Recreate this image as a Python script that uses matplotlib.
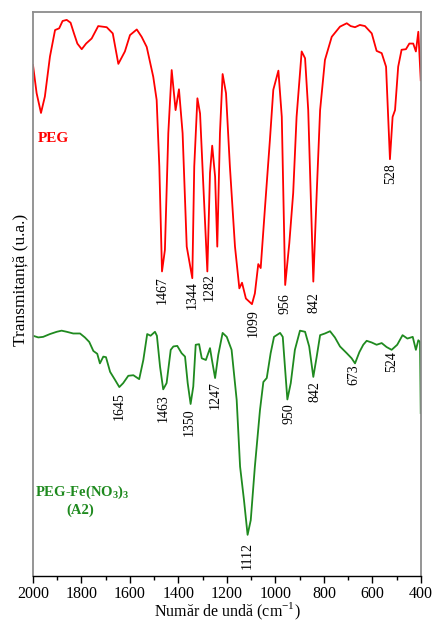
import matplotlib
matplotlib.use("Agg")
import matplotlib.pyplot as plt
from matplotlib.ticker import MultipleLocator

plt.rcParams['font.family'] = ['Liberation Serif', 'DejaVu Serif']
plt.rcParams['mathtext.fontset'] = 'custom'
plt.rcParams['mathtext.rm'] = 'Liberation Serif'
plt.rcParams['mathtext.bf'] = 'Liberation Serif:bold'

# PEG spectrum (wavenumber cm-1, transmittance a.u.)
peg_wn = [2000, 1985, 1967, 1951, 1930, 1909, 1892, 1878, 1861, 1845, 1831, 1817,
          1799, 1781, 1758, 1731, 1696, 1671, 1648, 1621, 1600, 1572, 1552, 1531,
          1504, 1490, 1479, 1468, 1456, 1442, 1428, 1412, 1398, 1383, 1366, 1343,
          1335, 1322, 1311, 1298, 1281, 1270, 1261, 1249, 1240, 1229, 1218, 1204,
          1188, 1167, 1149, 1138, 1122, 1097, 1085, 1071, 1061, 1043, 1023, 1009,
          988, 974, 960, 943, 927, 913, 892, 878, 865, 844, 830, 816, 796, 768,
          734, 706, 690, 672, 652, 631, 603, 583, 562, 544, 528, 517, 507, 494,
          480, 462, 448, 432, 421, 411, 401]
peg_t = [90.6, 85.6, 82.1, 85.0, 92.1, 96.8, 97.1, 98.4, 98.6, 98.1, 96.2, 94.4,
         93.4, 94.4, 95.3, 97.5, 97.3, 96.2, 90.8, 93.0, 95.9, 96.9, 95.6, 93.8,
         88.5, 84.4, 72.6, 54.0, 57.8, 78.5, 89.7, 82.6, 86.3, 78.5, 58.4, 52.8,
         72.6, 84.7, 82.0, 69.7, 54.0, 71.5, 76.3, 70.8, 58.4, 78.5, 89.0, 85.6,
         72.6, 58.4, 51.0, 52.0, 49.2, 48.2, 50.1, 55.3, 54.6, 65.5, 77.3, 86.2,
         89.6, 81.4, 51.6, 59.0, 67.9, 81.4, 93.0, 91.8, 82.6, 52.2, 67.9, 82.6,
         91.5, 95.6, 97.4, 98.0, 97.5, 97.3, 97.7, 97.5, 96.2, 93.1, 92.7, 90.3,
         73.9, 81.4, 82.6, 90.3, 93.3, 93.4, 94.4, 94.4, 93.0, 96.5, 87.9]

# PEG-Fe(NO3)3 (A2) spectrum
a2_wn = [2000, 1978, 1958, 1930, 1902, 1882, 1861, 1834, 1806, 1786, 1768, 1751,
         1735, 1724, 1710, 1699, 1682, 1662, 1644, 1628, 1607, 1586, 1562, 1545,
         1529, 1515, 1497, 1489, 1476, 1463, 1449, 1432, 1421, 1405, 1387, 1373,
         1362, 1350, 1339, 1329, 1315, 1304, 1287, 1270, 1262, 1249, 1236, 1218,
         1201, 1181, 1160, 1146, 1130, 1115, 1102, 1085, 1064, 1050, 1036, 1020,
         1006, 981, 970, 961, 951, 937, 920, 899, 878, 861, 844, 830, 816, 796,
         775, 755, 734, 706, 686, 672, 654, 638, 624, 603, 583, 562, 542, 521,
         498, 476, 456, 434, 421, 411, 404, 401]
a2_t = [42.6, 42.3, 42.4, 42.9, 43.3, 43.5, 43.3, 43.0, 43.0, 42.3, 41.5, 39.9,
        39.4, 37.7, 38.9, 38.8, 36.2, 34.8, 33.5, 34.2, 35.5, 35.6, 34.9, 38.3,
        42.9, 42.6, 43.3, 42.6, 37.1, 33.1, 34.2, 40.1, 40.7, 40.8, 39.5, 38.9,
        34.2, 30.5, 33.6, 41.0, 41.1, 38.6, 38.3, 40.4, 38.3, 35.1, 39.2, 43.1,
        42.4, 40.1, 31.2, 19.4, 13.5, 7.3, 9.9, 19.4, 29.4, 34.4, 35.1, 39.5,
        42.4, 43.1, 42.4, 37.1, 31.3, 34.2, 40.1, 43.5, 43.3, 40.7, 35.3, 38.9,
        42.7, 43.0, 43.4, 42.3, 40.7, 39.5, 38.6, 37.7, 39.7, 41.0, 41.7, 41.4,
        41.0, 41.3, 40.6, 40.1, 41.0, 42.7, 42.1, 42.4, 40.1, 41.8, 41.5, 28.9]

# peak annotations: label, wavenumber, label top position (a.u.)
peg_peaks = ["1467", "1344", "1282", "1099", "956", "842", "528"]
peg_peak_wn = [1466, 1342, 1274, 1093, 960, 840, 526]
peg_peak_y = [53.2, 52.3, 53.7, 47.3, 50.2, 50.4, 73.2]

a2_peaks = ["1645", "1463", "1350", "1247", "1112", "950", "842", "673", "524"]
a2_peak_wn = [1646, 1464, 1357, 1250, 1117, 946, 838, 677, 522]
a2_peak_y = [32.6, 32.3, 29.8, 34.6, 6.1, 30.7, 34.6, 37.6, 39.9]

RED = "#ff0000"
GREEN = "#1f8a1f"

fig = plt.figure(figsize=(4.34, 6.24), dpi=100)
ax = fig.add_axes([0.076, 0.0769, 0.894, 0.9039])

ax.plot(peg_wn, peg_t, color=RED, lw=1.3)
ax.plot(a2_wn, a2_t, color=GREEN, lw=1.3)

for lab, x, y in zip(peg_peaks, peg_peak_wn, peg_peak_y):
    ax.text(x, y, lab, rotation=90, ha='center', va='top', fontsize=10, color='black')
for lab, x, y in zip(a2_peaks, a2_peak_wn, a2_peak_y):
    ax.text(x, y, lab, rotation=90, ha='center', va='top', fontsize=10, color='black')

ax.text(1980, 77.6, "PEG", color=RED, fontsize=11, fontweight='bold', ha='left', va='center')
ax.text(1797, 14.8, r"PEG-Fe(NO$_\mathbf{3}$)$_\mathbf{3}$", color=GREEN, fontsize=10.5,
        fontweight='bold', ha='center', va='center')
ax.text(1805, 11.6, "(A2)", color=GREEN, fontsize=10.5, fontweight='bold', ha='center', va='center')

ax.set_xlim(2000, 400)
ax.set_ylim(0, 100)
ax.xaxis.set_major_locator(MultipleLocator(200))
ax.xaxis.set_minor_locator(MultipleLocator(100))
ax.tick_params(axis='x', which='major', direction='out', length=5, width=1, labelsize=11.5, pad=2)
ax.tick_params(axis='x', which='minor', direction='out', length=3, width=1)
ax.set_yticks([])
for s in ['top', 'right', 'left']:
    ax.spines[s].set_color('#8c8c8c')
    ax.spines[s].set_linewidth(1.3)
ax.spines['bottom'].set_color('black')
ax.spines['bottom'].set_linewidth(1.0)

ax.set_xlabel("Număr de undă (cm$^{\\mathrm{-1}}$)", fontsize=11.5, labelpad=-0.5)
fig.text(0.046, 0.551, "Transmitanță (u.a.)", rotation=90, fontsize=12.5, ha='center', va='center')

fig.savefig("out.png", dpi=100)
